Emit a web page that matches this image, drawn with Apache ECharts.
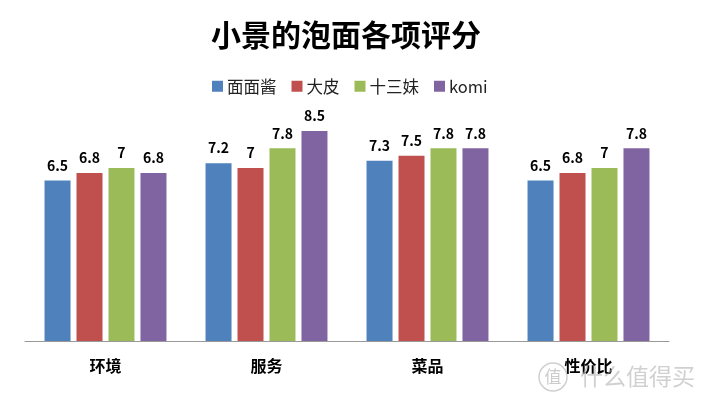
<!DOCTYPE html>
<html lang="zh-CN" style="height: 100%">
<head>
    <meta charset="utf-8">
</head>
<body style="height: 100%; margin: 0; background: #fff">
    <div id="container" style="height: 100%"></div>
    <script src="https://fastly.jsdelivr.net/npm/echarts@6/dist/echarts.min.js"></script>
    <script>
    const categories = ['环境', '服务', '菜品', '性价比'];
    const mianmianjiang = [6.5, 7.2, 7.3, 6.5];
    const dapi = [6.8, 7, 7.5, 6.8];
    const shisanmei = [7, 7.8, 7.8, 7];
    const komi = [6.8, 8.5, 7.8, 7.8];

    const font = '"Noto Sans CJK SC", sans-serif';
    var myChart = echarts.init(document.getElementById('container'));

    function barSeries(name, data, color) {
        return {
            name: name,
            type: 'bar',
            data: data,
            barWidth: 26,
            barGap: '23%',
            itemStyle: { color: color },
            label: {
                show: true,
                position: 'top',
                distance: 8,
                color: '#000',
                fontFamily: font,
                fontWeight: 'bold',
                fontSize: 14
            }
        };
    }

    myChart.setOption({
        animation: false,
        title: {
            text: '小景的泡面各项评分',
            left: 206,
            top: 15,
            textStyle: { fontFamily: font, fontSize: 30, fontWeight: 'bold', color: '#000' }
        },
        legend: {
            top: 73,
            left: 207,
            itemWidth: 11,
            itemHeight: 11,
            itemGap: 15,
            icon: 'rect',
            textStyle: { fontFamily: font, fontSize: 16.5, color: '#222', padding: [0, 0, 0, -1] }
        },
        grid: { left: 25, right: 36, top: 94, bottom: 62 },
        xAxis: {
            type: 'category',
            data: categories,
            axisTick: { show: false },
            axisLine: { lineStyle: { color: '#999' } },
            axisLabel: { fontFamily: font, fontWeight: 'bold', fontSize: 16, color: '#000', margin: 17 }
        },
        yAxis: { type: 'value', min: 0, max: 10, show: false, splitLine: { show: false } },
        series: [
            barSeries('面面酱', mianmianjiang, '#4f81bd'),
            barSeries('大皮', dapi, '#c0504d'),
            barSeries('十三妹', shisanmei, '#9bbb59'),
            barSeries('komi', komi, '#8064a2')
        ],
        // 右下角水印
        graphic: [
            {
                type: 'circle',
                shape: { cx: 553, cy: 377, r: 14 },
                style: { fill: 'none', stroke: 'rgba(170,170,170,0.55)', lineWidth: 1.5 },
                z: 100
            },
            {
                type: 'text',
                style: {
                    x: 553, y: 377, text: '值', align: 'center', verticalAlign: 'middle',
                    font: '17px "Noto Sans CJK SC"', fill: 'rgba(170,170,170,0.6)'
                },
                z: 100
            },
            {
                type: 'text',
                style: {
                    x: 580, y: 376, text: '什么值得买', verticalAlign: 'middle',
                    font: '23px "Noto Sans CJK SC"', fill: 'rgba(170,170,170,0.55)'
                },
                z: 100
            }
        ]
    });

    window.addEventListener('resize', myChart.resize);
    </script>
</body>
</html>
